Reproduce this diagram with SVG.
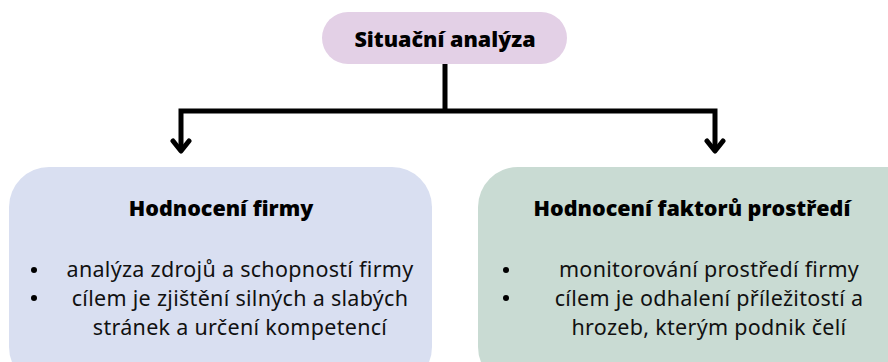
<svg xmlns="http://www.w3.org/2000/svg" width="888" height="362" viewBox="0 0 888 362">
<style>
.h{font-family:"Open Sans","DejaVu Sans",sans-serif;font-weight:800;font-size:21.5px;fill:#000;text-anchor:middle}
.b{font-family:"Noto Sans","DejaVu Sans",sans-serif;font-weight:400;font-size:21.5px;letter-spacing:0.3px;fill:#111;text-anchor:middle}
.dot{fill:#000}
.conn{fill:none;stroke:#000;stroke-width:5;stroke-linejoin:miter}
.head{fill:none;stroke:#000;stroke-width:5;stroke-linecap:round;stroke-linejoin:round}
</style>
<rect width="888" height="362" fill="#fff"/>
<g id="connectors">
<path class="conn" d="M445 64 V111 M180 111 H716 M181 108.5 V150 M715 108.5 V150"/>
<path class="head" d="M173 141 L181 151 L189 141 M707 141 L715 151 L723 141"/>
</g>
<g id="situacni-analyza">
<rect x="322" y="12" width="245" height="52" rx="26" fill="#e3d0e6"/>
<text class="h" x="445" y="47" font-size="22">Situační analýza</text>
</g>
<g id="hodnoceni-firmy">
<rect x="9" y="167" width="423" height="220" rx="40" fill="#d9dff1"/>
<text class="h" x="221" y="216">Hodnocení firmy</text>
<circle class="dot" cx="34" cy="270" r="3"/>
<circle class="dot" cx="34" cy="298" r="3"/>
<text class="b" x="240" y="277">analýza zdrojů a schopností firmy</text>
<text class="b" x="240" y="306">cílem je zjištění silných a slabých</text>
<text class="b" x="240" y="335">stránek a určení kompetencí</text>
</g>
<g id="hodnoceni-faktoru-prostredi">
<rect x="478" y="167" width="450" height="220" rx="40" fill="#c9dbd3"/>
<text class="h" x="692" y="216">Hodnocení faktorů prostředí</text>
<circle class="dot" cx="506" cy="270" r="3"/>
<circle class="dot" cx="506" cy="298" r="3"/>
<text class="b" x="709" y="277">monitorování prostředí firmy</text>
<text class="b" x="709" y="306">cílem je odhalení příležitostí a</text>
<text class="b" x="709" y="335">hrozeb, kterým podnik čelí</text>
</g>
</svg>
